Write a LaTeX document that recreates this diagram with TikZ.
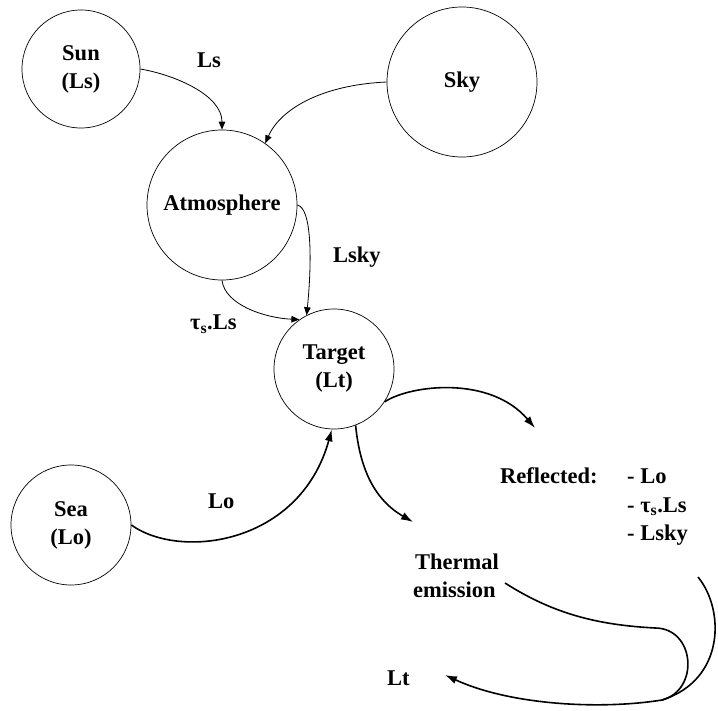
\documentclass[tikz,border=0pt]{standalone}
\usepackage{fontspec}
\setmainfont{Liberation Serif}
\usetikzlibrary{arrows.meta}
\begin{document}
\begin{tikzpicture}[x=1pt,y=-1pt,
  every node/.style={font=\bfseries\fontsize{22.5}{28}\selectfont},
  ball/.style={draw, circle, inner sep=0pt, line width=0.7pt, align=center},
  lbl/.style={anchor=base west, inner sep=0pt},
  thinarr/.style={line width=0.8pt, -{Triangle[length=8pt,width=6.5pt]}},
  thickarr/.style={line width=1.6pt, -{Latex[length=12pt,width=8pt]}},
  thickline/.style={line width=1.6pt}
]
\useasboundingbox (0,0) rectangle (718,711);

% circles
\node[ball, minimum size=118pt] (sun) at (81,69) {Sun\\(Ls)};
\node[ball, minimum size=150pt] (sky) at (462,82) {Sky};
\node[ball, minimum size=150pt] (atm) at (222,205) {Atmosphere};
\node[ball, minimum size=120pt] (target) at (334,369) {Target\\(Lt)};
\node[ball, minimum size=120pt] (sea) at (71,525) {Sea\\(Lo)};

% labels
\node[lbl] (ls) at (197,68) {Ls};
\node[lbl] (lsky) at (333,263) {Lsky};
\node[lbl] (tauls) at (190,330) {τ\textsubscript{s}.Ls};
\node[lbl] (lo) at (208,508) {Lo};
\node[lbl] (refl) at (500,483) {Reflected:};
\node[lbl] (r1) at (627,483) {- Lo};
\node[lbl] (r2) at (627,512) {- τ\textsubscript{s}.Ls};
\node[lbl] (r3) at (627,540) {- Lsky};
\node[lbl] (therm) at (415,569) {Thermal};
\node[lbl] (emis) at (413,597) {emission};
\node[lbl] (lt) at (387,685) {Lt};

% free ends
\coordinate (reftip) at (535,428);
\coordinate (thermtip) at (413,522);
\coordinate (loopstart) at (505,583);
\coordinate (refstart) at (698,577);
\coordinate (merge) at (662,700);
\coordinate (lttip) at (445,675);

% thin arrows
\draw[thinarr] (sun.east) .. controls (175,75) and (222,95) .. (atm.north);
\draw[thinarr] (sky.west) .. controls (320,85) and (280,110) .. (atm.55);
\draw[thinarr] (atm.east) .. controls (312,208) and (312,262) .. (target.117);
\draw[thinarr] (atm.south) .. controls (225,305) and (265,318) .. (target.125);

% thick arrows
\draw[thickarr] (sea.east) .. controls (180,560) and (300,545) .. (target.-92);
\draw[thickarr] (target.-33) .. controls (410,385) and (490,375) .. (reftip);
\draw[thickarr] (target.-69) .. controls (360,470) and (375,500) .. (thermtip);

% loop to Lt
\draw[thickarr] (loopstart) .. controls (555,615) and (600,625) .. (655,628)
  .. controls (695,628) and (700,690) .. (merge)
  .. controls (600,710) and (510,705) .. (lttip);
\draw[thickline] (refstart) .. controls (725,610) and (725,680) .. (merge);
\end{tikzpicture}
\end{document}
